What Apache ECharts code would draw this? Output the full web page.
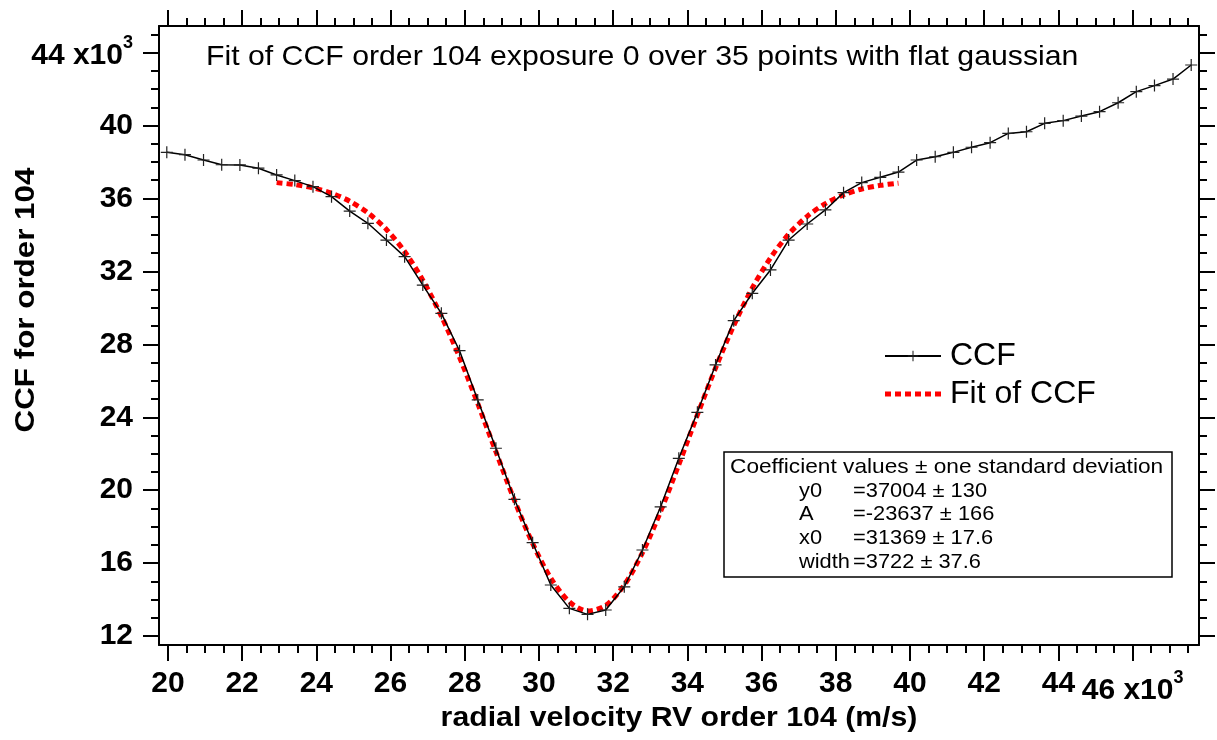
<!DOCTYPE html>
<html>
<head>
<meta charset="utf-8">
<script src="https://cdn.jsdelivr.net/npm/echarts@6/dist/echarts.min.js"></script>
<style>
    html, body { margin: 0; padding: 0; background: #fff; }
    #chart { width: 1217px; height: 740px; }
</style>
</head>
<body>
<div id="chart"></div>
<script>
/* CCF order 104 + gaussian fit */

// radial velocity (x10^3 m/s)
var xVals = [19.97, 20.46, 20.96, 21.45, 21.94, 22.44, 22.93, 23.42, 23.91, 24.41,
    24.90, 25.39, 25.89, 26.38, 26.87, 27.37, 27.86, 28.35, 28.84, 29.34,
    29.83, 30.32, 30.82, 31.31, 31.80, 32.30, 32.79, 33.28, 33.77, 34.27,
    34.76, 35.25, 35.75, 36.24, 36.73, 37.23, 37.72, 38.21, 38.70, 39.20,
    39.69, 40.18, 40.68, 41.17, 41.66, 42.16, 42.65, 43.14, 43.63, 44.13,
    44.62, 45.11, 45.61, 46.10, 46.59, 47.09, 47.58];

// CCF (x10^3)
var ccfVals = [38.53, 38.40, 38.11, 37.85, 37.84, 37.66, 37.29, 36.98, 36.65, 36.10,
    35.31, 34.64, 33.72, 32.81, 31.25, 29.70, 27.65, 24.95, 22.30, 19.50,
    17.12, 14.80, 13.52, 13.19, 13.43, 14.70, 16.72, 19.09, 21.75, 24.27,
    26.87, 29.30, 30.80, 32.08, 33.72, 34.60, 35.37, 36.32, 36.87, 37.16,
    37.45, 38.11, 38.29, 38.53, 38.81, 39.06, 39.57, 39.66, 40.12, 40.27,
    40.52, 40.76, 41.25, 41.86, 42.19, 42.55, 43.32];

// fit over 35 points (index 6 .. 40)
var fitStart = 6;
var fitVals = [36.87, 36.76, 36.58, 36.29, 35.85, 35.21, 34.30, 33.09, 31.52, 29.55,
    27.29, 24.76, 22.11, 19.44, 17.08, 15.17, 13.88, 13.37, 13.68, 14.80,
    16.57, 18.84, 21.41, 24.13, 26.70, 29.03, 31.09, 32.74, 34.04, 35.02,
    35.72, 36.20, 36.52, 36.72, 36.84];

var xMajor = [20, 22, 24, 26, 28, 30, 32, 34, 36, 38, 40, 42, 44, 46];
var xMinor = [20, 20.5, 21, 21.5, 22, 22.5, 23, 23.5, 24, 24.5, 25, 25.5, 26, 26.5,
    27, 27.5, 28, 28.5, 29, 29.5, 30, 30.5, 31, 31.5, 32, 32.5, 33, 33.5, 34, 34.5,
    35, 35.5, 36, 36.5, 37, 37.5, 38, 38.5, 39, 39.5, 40, 40.5, 41, 41.5, 42, 42.5,
    43, 43.5, 44, 44.5, 45, 45.5, 46, 46.5, 47, 47.5];
var yMajor = [12, 16, 20, 24, 28, 32, 36, 40, 44];
var yMinor = [12, 13, 14, 15, 16, 17, 18, 19, 20, 21, 22, 23, 24, 25, 26, 27, 28, 29,
    30, 31, 32, 33, 34, 35, 36, 37, 38, 39, 40, 41, 42, 43, 44, 45];

var coefLines = [
    ['y0', '=37004 \u00b1 130'],
    ['A', '=-23637 \u00b1 166'],
    ['x0', '=31369 \u00b1 17.6'],
    ['width', '=3722 \u00b1 37.6']
];

var FONT = '"Liberation Sans", Arial, Helvetica, sans-serif';
var CROSS = 'path://M5.4,0H6.6V5.4H12V6.6H6.6V12H5.4V6.6H0V5.4H5.4Z';
// red dotted legend sample (tiny corner triangles keep the 56x13 box)
var DOTS = 'path://M0,0L0.01,0L0,0.01Z M56,13L55.99,13L56,12.99Z' +
    'M0,4H6V9H0Z M10,4H16V9H10Z M20,4H26V9H20Z M30,4H36V9H30Z M40,4H46V9H40Z M50,4H56V9H50Z';

var richExp = {
    a: { fontSize: 30, fontWeight: 'bold', fontFamily: FONT, color: '#000',
        verticalAlign: 'top', padding: [7, 0, 0, 0] },
    s: { fontSize: 18, fontWeight: 'bold', fontFamily: FONT, color: '#000',
        verticalAlign: 'top' }
};

function tickAxis(pos, min, max, ticks, len, withLine, label) {
    return {
        type: 'value',
        position: pos,
        min: min,
        max: max,
        axisLine: { show: withLine, onZero: false, lineStyle: { color: '#000', width: 2 } },
        axisTick: { show: true, inside: false, length: len, customValues: ticks,
            lineStyle: { color: '#000', width: 2 } },
        axisLabel: label || { show: false },
        splitLine: { show: false }
    };
}

function buildOption() {
    var xMin = 19.76, xMax = 47.79, yMin = 11.51, yMax = 45.46;

    var ccfData = [];
    for (var i = 0; i < xVals.length; i++) {
        ccfData.push([xVals[i], ccfVals[i]]);
    }
    var fitData = [];
    for (var j = 0; j < fitVals.length; j++) {
        fitData.push([xVals[fitStart + j], fitVals[j]]);
    }

    var xLabel = {
        show: true, customValues: xMajor, margin: 24,
        fontSize: 30, fontWeight: 'bold', fontFamily: FONT, color: '#000',
        rich: richExp,
        formatter: function (v) {
            return v === 46 ? '{a|46 x10}{s|3}' : '' + v;
        }
    };
    var yLabel = {
        show: true, customValues: yMajor, margin: 26,
        fontSize: 30, fontWeight: 'bold', fontFamily: FONT, color: '#000',
        rich: richExp,
        formatter: function (v) {
            return v === 44 ? '{a|44 x10}{s|3}' : '' + v;
        }
    };

    var graphics = [
        {   // title
            type: 'text', x: 206, y: 57, scaleX: 1.08,
            style: { text: 'Fit of CCF order 104 exposure 0 over 35 points with flat gaussian',
                fontSize: 28, fontFamily: FONT, fill: '#000', textAlign: 'left', textVerticalAlign: 'middle' }
        },
        {
            type: 'text', x: 679, y: 718, scaleX: 1.08,
            style: { text: 'radial velocity RV order 104 (m/s)', fontSize: 28, fontWeight: 'bold',
                fontFamily: FONT, fill: '#000', textAlign: 'center', textVerticalAlign: 'middle' }
        },
        {
            type: 'text', x: 26, y: 300, rotation: Math.PI / 2, scaleX: 1.12,
            style: { text: 'CCF for order 104', fontSize: 28, fontWeight: 'bold',
                fontFamily: FONT, fill: '#000', textAlign: 'center', textVerticalAlign: 'middle' }
        },
        {   // coefficient box
            type: 'rect', shape: { x: 724, y: 452, width: 448, height: 125 },
            style: { fill: '#fff', stroke: '#000', lineWidth: 1.5 }, z: 10
        },
        {
            type: 'text', x: 730, y: 467, scaleX: 1.08, z: 11,
            style: { text: 'Coefficient values \u00b1 one standard deviation', fontSize: 21,
                fontFamily: FONT, fill: '#000', textAlign: 'left', textVerticalAlign: 'middle' }
        }
    ];
    for (var k = 0; k < coefLines.length; k++) {
        graphics.push({
            type: 'text', x: 799, y: 491 + k * 23.7, scaleX: 1.04, z: 11,
            style: { text: coefLines[k][0], fontSize: 21, fontFamily: FONT, fill: '#000',
                textAlign: 'left', textVerticalAlign: 'middle' }
        });
        graphics.push({
            type: 'text', x: 853, y: 491 + k * 23.7, scaleX: 1.04, z: 11,
            style: { text: coefLines[k][1], fontSize: 21, fontFamily: FONT, fill: '#000',
                textAlign: 'left', textVerticalAlign: 'middle' }
        });
    }

    return {
        backgroundColor: '#fff',
        animation: false,
        grid: { left: 159, right: 18, top: 26, bottom: 95, containLabel: false },
        legend: {
            orient: 'vertical', left: 884, top: 339, padding: 0,
            itemWidth: 56, itemHeight: 13, itemGap: 4,
            textStyle: { fontSize: 32, fontFamily: FONT, color: '#000', lineHeight: 34,
                padding: [0, 0, 0, 4] },
            data: [
                { name: 'CCF' },
                { name: 'Fit of CCF', icon: DOTS,
                    itemStyle: { color: '#ff0000', borderWidth: 0 } }
            ]
        },
        xAxis: [
            tickAxis('bottom', xMin, xMax, xMajor, 16, true, xLabel),
            tickAxis('bottom', xMin, xMax, xMinor, 8, false),
            tickAxis('top', xMin, xMax, xMajor, 16, true),
            tickAxis('top', xMin, xMax, xMinor, 8, false)
        ],
        yAxis: [
            tickAxis('left', yMin, yMax, yMajor, 16, true, yLabel),
            tickAxis('left', yMin, yMax, yMinor, 8, false),
            tickAxis('right', yMin, yMax, yMajor, 16, true),
            tickAxis('right', yMin, yMax, yMinor, 8, false)
        ],
        series: [
            {
                name: 'Fit of CCF',
                type: 'line',
                data: fitData,
                smooth: 0.3,
                showSymbol: false,
                symbol: 'none',
                lineStyle: { color: '#ff0000', width: 5, type: [6, 4] },
                itemStyle: { color: '#ff0000' },
                z: 2
            },
            {
                name: 'CCF',
                type: 'line',
                data: ccfData,
                symbol: CROSS,
                symbolSize: 12,
                itemStyle: { color: '#222' },
                lineStyle: { color: '#000', width: 1.5 },
                z: 3
            }
        ],
        graphic: graphics
    };
}

var chart = echarts.init(document.getElementById('chart'));
chart.setOption(buildOption());
</script>
</body>
</html>
